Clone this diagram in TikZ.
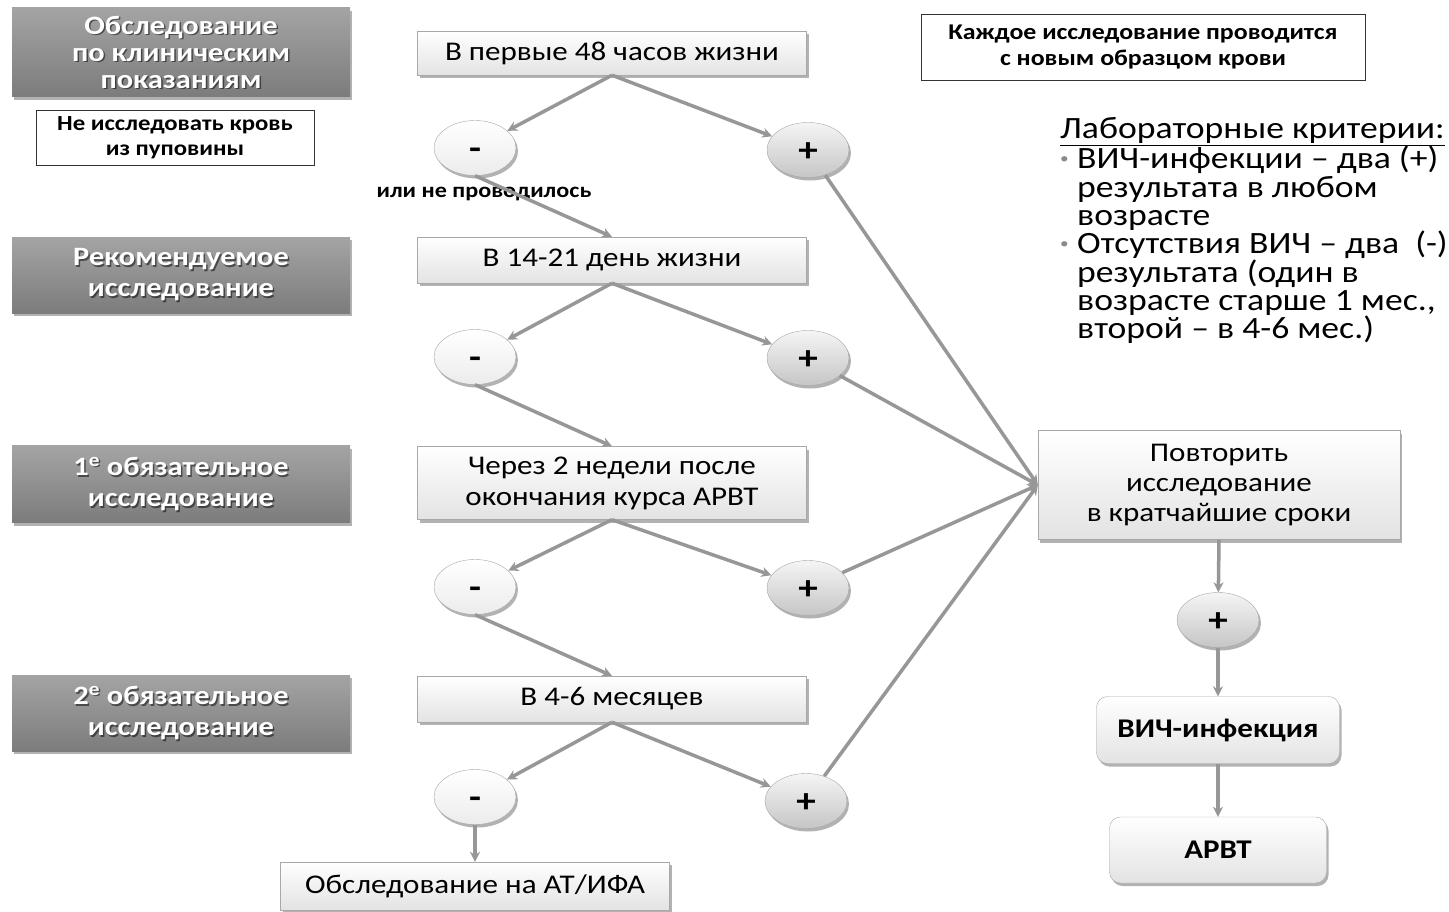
\documentclass[tikz,border=0pt]{standalone}
\usepackage{fontspec}
\setmainfont{Carlito}[FakeStretch=1.15]
\usetikzlibrary{arrows.meta,shapes.geometric,shadows}

\definecolor{arrowgray}{HTML}{979797}
\definecolor{boxline}{HTML}{A8A8A8}
\definecolor{stagetop}{HTML}{A4A4A4}
\definecolor{stagebot}{HTML}{7C7C7C}
\definecolor{bulletgray}{HTML}{8A8A8A}

\tikzset{
  boxshadow/.style={drop shadow={shadow xshift=2pt, shadow yshift=-3pt, opacity=.3, fill=black}},
  stagebox/.style={rectangle, minimum width=338pt, top color=stagetop, bottom color=stagebot, boxshadow},
  stagetext/.style={text=white, align=center, font={\bfseries\fontsize{26.5}{31}\selectfont}},
  stepbox/.style={rectangle, draw=boxline, minimum width=389pt, top color=white, bottom color=gray!22, boxshadow, align=center, font={\fontsize{27}{31}\selectfont}},
  notebox/.style={rectangle, draw=black!80, fill=white, align=center, font={\bfseries\fontsize{22.5}{26}\selectfont}},
  negres/.style={ellipse, draw=gray!70, minimum width=82pt, minimum height=55pt, inner sep=0pt, text height=22pt, text depth=0pt, top color=white, bottom color=gray!15, boxshadow, font={\bfseries\fontsize{34}{34}\selectfont}},
  posres/.style={negres, top color=gray!8, bottom color=gray!45},
  resbox/.style={stepbox, rounded corners=11pt, font={\bfseries\fontsize{27}{30}\selectfont}},
  conn/.style={draw=arrowgray, line width=3.5pt, -{Stealth[length=10pt,width=10pt]}}
}

\newcommand{\critbullet}{\makebox[17pt][l]{\textcolor{bulletgray}{\raisebox{5pt}{\fontsize{15}{15}\selectfont\textbullet}}}}

\begin{document}
\begin{tikzpicture}[x=1pt,y=-1pt]
  \useasboundingbox (0,0) rectangle (1449,911);
  %
  % stage labels on the left
  \foreach \nm/\y/\h/\txt in {cl/52/89/{Обследование\\[-4pt]по клиническим\\[-4pt]показаниям},
      rec/275/76/{Рекомендуемое\\исследование},
      ob1/484/77/{1\textsuperscript{е} обязательное\\исследование},
      ob2/713/76/{2\textsuperscript{е} обязательное\\исследование}}
  {
    \node[stagebox, minimum height=\h] (\nm) at (181,\y) {};
    \node[stagetext, text=black, opacity=.5] at ([shift={(1.5,1.5)}]\nm.center) {\txt};
    \node[stagetext] at (\nm.center) {\txt};
  }
  \node[notebox, minimum width=278pt, minimum height=55pt, font={\bfseries\fontsize{21.5}{25}\selectfont}] (cord) at (175,138) {Не исследовать кровь\\из пуповины};
  \node[notebox, minimum width=444pt, minimum height=66pt] (note) at (1143,47) {Каждое исследование проводится\\с новым образцом крови};
  %
  % time points
  \node[stepbox, minimum height=44pt] (t1) at (612,53) {В первые 48 часов жизни};
  \node[stepbox, minimum height=46pt] (t2) at (612,260) {В 14-21 день жизни};
  \node[stepbox, minimum height=73pt] (t3) at (612,483) {Через 2 недели после\\окончания курса АРВТ};
  \node[stepbox, minimum height=46pt] (t4) at (612,699) {В 4-6 месяцев};
  \node[stepbox, minimum height=48pt] (ab) at (475,886) {Обследование на АТ/ИФА};
  %
  % results
  \node[negres] (m1) at (475,148) {-};
  \node[negres] (m2) at (475,357) {-};
  \node[negres] (m3) at (475,587) {-};
  \node[negres] (m4) at (475,797) {-};
  \node[posres] (p1) at (808,150) {+};
  \node[posres] (p2) at (808,358) {+};
  \node[posres] (p3) at (808,588) {+};
  \node[posres] (p4) at (806,801) {+};
  \node[font={\bfseries\fontsize{21}{24}\selectfont}] (none) at (484,194) {или не проводилось};
  %
  % right column
  \node[stepbox, minimum width=362pt, minimum height=109pt, font={\fontsize{27}{30}\selectfont}] (rep) at (1219,485) {Повторить\\исследование\\в кратчайшие сроки};
  \node[posres] (pr) at (1218,620) {+};
  \node[resbox, minimum width=243pt, minimum height=67pt] (hiv) at (1218,730) {ВИЧ-инфекция};
  \node[resbox, minimum width=217pt, minimum height=66pt] (arvt) at (1218,850) {АРВТ};
  %
  \node[anchor=north west, align=left, inner sep=0pt, font={\fontsize{31}{28.3}\selectfont}] (crit) at (1060,117)
    {\underline{Лабораторные критерии:}\\
     \critbullet ВИЧ-инфекции – два (+)\\
     \hspace*{17pt}результата в любом\\
     \hspace*{17pt}возрасте\\
     \critbullet Отсутствия ВИЧ – два~ (-)\\
     \hspace*{17pt}результата (один в\\
     \hspace*{17pt}возрасте старше 1 мес.,\\
     \hspace*{17pt}второй – в 4-6 мес.)};
  %
  % connectors
  \foreach \i in {1,...,4} {
    \draw[conn] (t\i.south) -- (m\i);
    \draw[conn] (t\i.south) -- (p\i);
    \draw[conn] (p\i) -- (rep.west);
  }
  \foreach \i/\j in {1/2,2/3,3/4}
    \draw[conn] (m\i.south) -- (t\j.north);
  \draw[conn] (m4.south) -- (ab.north);
  \draw[conn] (rep.south) -- (pr);
  \draw[conn] (pr) -- (hiv);
  \draw[conn] (hiv) -- (arvt);
\end{tikzpicture}
\end{document}
